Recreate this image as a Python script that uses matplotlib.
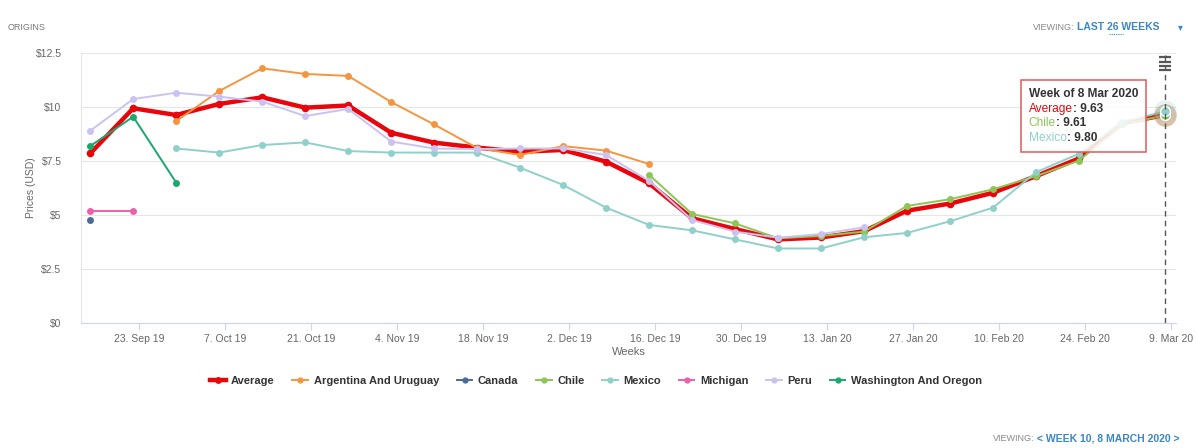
import datetime as dt

import numpy as np
import matplotlib
matplotlib.use("Agg")
import matplotlib.pyplot as plt
from matplotlib.lines import Line2D
from matplotlib.offsetbox import TextArea, HPacker, VPacker, AnnotationBbox

plt.rcParams["font.family"] = ["Liberation Sans", "DejaVu Sans"]

N = np.nan

# weekly points, week of 15 Sep 2019 .. week of 8 Mar 2020
START = dt.date(2019, 9, 15)
WEEKS = [START + dt.timedelta(weeks=i) for i in range(26)]

AVERAGE = [7.85, 9.94, 9.63, 10.14, 10.45, 9.97, 10.07, 8.81, 8.35, 8.12, 7.93, 8.01, 7.47,
           6.47, 4.85, 4.35, 3.87, 3.96, 4.25, 5.20, 5.53, 6.03, 6.80, 7.62, 9.25, 9.63]
ARGENTINA = [N, N, 9.35, 10.74, 11.79, 11.53, 11.44, 10.23, 9.19, 8.10, 7.78, 8.19, 7.98,
             7.36, N, N, N, N, N, N, N, N, N, N, N, N]
CANADA = [4.77] + [N] * 25
CHILE = [N] * 13 + [6.86, 5.05, 4.61, 3.92, 4.03, 4.23, 5.42, 5.73, 6.19, 6.80, 7.52, 9.20, 9.61]
MEXICO = [N, N, 8.08, 7.89, 8.24, 8.36, 7.96, 7.89, 7.89, 7.89, 7.19, 6.39, 5.34,
          4.54, 4.29, 3.87, 3.45, 3.45, 3.97, 4.17, 4.71, 5.34, 6.98, 7.84, 9.30, 9.80]
MICHIGAN = [5.19, 5.19] + [N] * 24
PERU = [8.90, 10.37, 10.66, 10.48, 10.25, 9.58, 9.91, 8.40, 8.08, 8.05, 8.08, 8.08, 7.78,
        6.58, 4.77, 4.23, 3.95, 4.12, 4.43, N, N, N, N, N, N, N]
WASHINGTON = [8.19, 9.55, 6.50] + [N] * 23

TICK_DATES = [dt.date(2019, 9, 23) + dt.timedelta(weeks=2 * i) for i in range(13)]
TICK_LABELS = ["23. Sep 19", "7. Oct 19", "21. Oct 19", "4. Nov 19", "18. Nov 19", "2. Dec 19",
               "16. Dec 19", "30. Dec 19", "13. Jan 20", "27. Jan 20", "10. Feb 20",
               "24. Feb 20", "9. Mar 20"]
Y_TICKS = [0, 2.5, 5, 7.5, 10, 12.5]
Y_LABELS = ["$0", "$2.5", "$5", "$7.5", "$10", "$12.5"]

SERIES = [
    ("Average", AVERAGE, "#e8060c", 3.2, 5.5),
    ("Argentina And Uruguay", ARGENTINA, "#f5953f", 1.4, 5.0),
    ("Canada", CANADA, "#4c6a97", 1.4, 5.0),
    ("Chile", CHILE, "#8cc653", 1.4, 5.0),
    ("Mexico", MEXICO, "#8fd0ca", 1.4, 5.0),
    ("Michigan", MICHIGAN, "#ee5fab", 1.4, 5.0),
    ("Peru", PERU, "#cbc2f2", 1.4, 5.0),
    ("Washington And Oregon", WASHINGTON, "#1ba86d", 1.4, 5.0),
]
HOVER = ["Average", "Chile", "Mexico"]

GREY = "#666666"
BLUE = "#3b86c6"

W, H = 1196, 448
fig = plt.figure(figsize=(W / 100, H / 100), dpi=100)
ax = fig.add_axes([81 / W, 1 - 323 / H, 1095 / W, 270 / H])

x = np.array(WEEKS, dtype="datetime64[D]")
handles = []
for name, vals, color, lw, ms in SERIES:
    line, = ax.plot(x, vals, color=color, lw=lw, marker="o", ms=ms,
                    markeredgewidth=0, label=name, zorder=3 if name != "Average" else 2.5)
    handles.append(line)
    if name in HOVER:
        ax.scatter(x[-1], vals[-1], s=260, color=color, alpha=0.25, lw=0, zorder=4)
        ax.plot(x[-1], vals[-1], marker="o", ms=7, color=color, mec="white", mew=1, zorder=5)

ax.set_xlim(np.datetime64(WEEKS[0]) - np.timedelta64(36, "h"),
            np.datetime64(WEEKS[-1]) + np.timedelta64(43, "h"))
ax.set_ylim(0, 12.5)

ax.set_xticks(np.array(TICK_DATES, dtype="datetime64[D]"))
ax.set_xticklabels(TICK_LABELS)
ax.set_yticks(Y_TICKS)
ax.set_yticklabels(Y_LABELS)
ax.tick_params(axis="x", length=5, width=0.8, color="#ccd6eb", labelsize=7.5,
               labelcolor=GREY, pad=3)
ax.tick_params(axis="y", length=0, labelsize=7.5, labelcolor=GREY, pad=14)
ax.grid(axis="y", color="#e6e6e6", lw=0.8)
ax.set_axisbelow(True)
for side in ["top", "right"]:
    ax.spines[side].set_visible(False)
ax.spines["bottom"].set_color("#ccd6eb")
ax.spines["left"].set_color("#e6e6e6")
ax.set_xlabel("Weeks", fontsize=8, color=GREY, labelpad=2)
ax.set_ylabel("Prices (USD)", fontsize=7.5, color=GREY, labelpad=0)

# crosshair at the hovered week
ax.axvline(x[-1], color="#555555", lw=1, ls=(0, (4, 3)), zorder=6)
for yy in [12.3, 12.1, 11.9, 11.7]:
    ax.plot(x[-1], yy, marker="_", ms=9, mew=1.6, color="#555555", zorder=7, clip_on=False)

# tooltip
def tip_row(label, color, value):
    return HPacker(children=[
        TextArea(label, textprops=dict(color=color, size=8.6)),
        TextArea(f": {value:.2f}", textprops=dict(color="#333333", size=8.6, weight="bold")),
    ], pad=0, sep=0)

rows = [TextArea("Week of 8 Mar 2020", textprops=dict(color="#333333", size=8.6, weight="bold"))]
for name, vals, color, lw, ms in SERIES:
    if name in HOVER:
        rows.append(tip_row(name, color, vals[-1]))
box = VPacker(children=rows, pad=2, sep=2, align="left")
tip = AnnotationBbox(box, (1026 / W, 1 - 85 / H), xycoords="figure fraction",
                     box_alignment=(0, 1), frameon=True, pad=0.35, zorder=10,
                     annotation_clip=False,
                     bboxprops=dict(edgecolor="#e05a5a", facecolor=(1, 1, 1, 0.85), lw=1.1))
ax.add_artist(tip)

leg = fig.legend(handles=handles, loc="center", bbox_to_anchor=(596 / W, 1 - 381 / H),
                 ncol=8, frameon=False, fontsize=8, handlelength=1.4, handletextpad=0.5,
                 columnspacing=1.6, numpoints=1, markerscale=0.9)
for t in leg.get_texts():
    t.set_color("#333333")
    t.set_fontweight("bold")

fig.text(8 / W, 1 - 27 / H, "ORIGINS", fontsize=6.5, color="#777777", va="center")
fig.text(1074 / W, 1 - 27 / H, "VIEWING:", fontsize=6.5, color="#888888", va="center", ha="right")
fig.text(1077 / W, 1 - 27 / H, "LAST 26 WEEKS", fontsize=7.5, color=BLUE, va="center",
         weight="bold")
fig.add_artist(Line2D([1109 / W, 1123 / W], [1 - 34 / H, 1 - 34 / H], color=BLUE, lw=0.8,
                      ls=(0, (1, 1))))
fig.text(1180 / W, 1 - 27 / H, "▾", fontsize=7, color=BLUE, va="center", ha="center")
fig.text(1034 / W, 1 - 438 / H, "VIEWING:", fontsize=6.5, color="#888888", va="center", ha="right")
fig.text(1037 / W, 1 - 438 / H, "< WEEK 10, 8 MARCH 2020 >", fontsize=7.5, color=BLUE,
         va="center", weight="bold")

fig.savefig("out.png", dpi=100)
